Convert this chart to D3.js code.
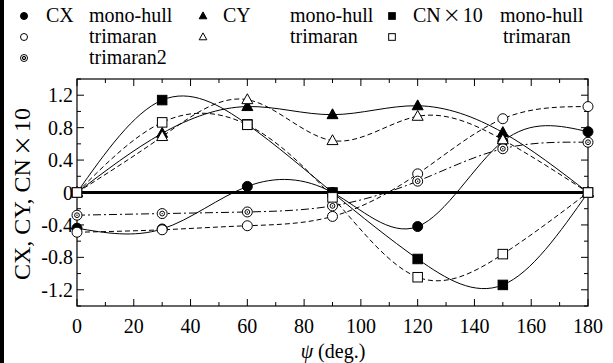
<!DOCTYPE html>
<html>
<head>
<meta charset="utf-8">
<script src="https://cdn.jsdelivr.net/npm/d3@7"></script>
<style>
  body { margin: 0; background: #fff; }
  svg text { font-family: "Liberation Serif", "Times New Roman", serif; fill: #000; }
</style>
</head>
<body>
<svg id="chart" width="613" height="363"></svg>
<script>
// angle of attack (deg)
let angles = [0, 30, 60, 90, 120, 150, 180]

let cxMono = [-0.44, -0.45, 0.075, 0, -0.42, 0.63, 0.75]
let cxTri = [-0.49, -0.46, -0.41, -0.295, 0.23, 0.91, 1.06]
let cxTri2 = [-0.28, -0.26, -0.24, -0.165, 0.14, 0.54, 0.62]
let cyMono = [0, 0.73, 1.06, 0.96, 1.07, 0.74, 0]
let cyTri = [0, 0.69, 1.145, 0.64, 0.94, 0.65, 0]
let cnMono = [0, 1.14, 0.84, 0, -0.82, -1.14, 0]
let cnTri = [0, 0.865, 0.835, -0.06, -1.045, -0.76, 0]

let xTicks = [0, 20, 40, 60, 80, 100, 120, 140, 160, 180]
let yTicks = [-1.2, -0.8, -0.4, 0, 0.4, 0.8, 1.2]

let svg = d3.select("#chart")
let pLeft = 77, pRight = 588, pTop = 79, pBottom = 306

let x = d3.scaleLinear().domain([0, 180]).range([pLeft, pRight])
let y = d3.scaleLinear().domain([-1.4, 1.4]).range([pBottom, pTop])

// black strip on the left edge
svg.append("rect").attr("x", 0).attr("y", 0).attr("width", 4).attr("height", 363).attr("fill", "#000")

// ticks, pointing inward on all four sides
let xMinor = d3.range(0, 181, 10)
let yMinor = d3.range(-14, 15, 2).map(d => d / 10)
let tk = svg.append("g").attr("stroke", "#000").attr("stroke-width", 1)
xMinor.forEach(v => {
    let len = v % 20 === 0 ? 7 : 4
    tk.append("line").attr("x1", x(v)).attr("x2", x(v)).attr("y1", pBottom).attr("y2", pBottom - len)
    tk.append("line").attr("x1", x(v)).attr("x2", x(v)).attr("y1", pTop).attr("y2", pTop + len)
})
yMinor.forEach(v => {
    let major = Math.abs(Math.round(v * 10)) % 4 === 0
    let len = major ? 7 : 4
    tk.append("line").attr("y1", y(v)).attr("y2", y(v)).attr("x1", pLeft).attr("x2", pLeft + len)
    tk.append("line").attr("y1", y(v)).attr("y2", y(v)).attr("x1", pRight).attr("x2", pRight - len)
})

svg.append("rect")
    .attr("x", pLeft).attr("y", pTop)
    .attr("width", pRight - pLeft).attr("height", pBottom - pTop)
    .attr("fill", "none").attr("stroke", "#000").attr("stroke-width", 1.2)

// tick labels
svg.append("g").selectAll("text")
    .data(xTicks).enter().append("text")
    .attr("x", d => x(d)).attr("y", 333)
    .attr("text-anchor", "middle").attr("font-size", 20)
    .text(d => d)

svg.append("g").selectAll("text")
    .data(yTicks).enter().append("text")
    .attr("x", 73).attr("y", d => y(d) + 7)
    .attr("text-anchor", "end").attr("font-size", 20)
    .text(d => d === 0 ? "0" : d.toFixed(1))

// axis titles
svg.append("text")
    .attr("x", 333).attr("y", 358)
    .attr("text-anchor", "middle").attr("font-size", 20)
    .html('<tspan font-style="italic">ψ</tspan>  (deg.)')

let yTitle = svg.append("text")
    .attr("transform", "translate(30,194) rotate(-90)")
    .attr("text-anchor", "middle").attr("font-size", 24)
yTitle.append("tspan").text("CX, CY, CN")
yTitle.append("tspan").attr("font-family", "Noto Sans CJK JP").attr("font-size", 21).attr("dx", 3).text("×")
yTitle.append("tspan").attr("dx", 3).text("10")

// zero line
svg.append("line")
    .attr("x1", x(0)).attr("x2", x(180)).attr("y1", y(0)).attr("y2", y(0))
    .attr("stroke", "#000").attr("stroke-width", 3)

let series = [
    { vals: cxMono, dash: null, mark: "circleF" },
    { vals: cxTri, dash: "5,3", mark: "circleO" },
    { vals: cxTri2, dash: "8,3,2,3", mark: "circle2" },
    { vals: cyMono, dash: null, mark: "triF" },
    { vals: cyTri, dash: "5,3", mark: "triO" },
    { vals: cnMono, dash: null, mark: "sqF" },
    { vals: cnTri, dash: "5,3", mark: "sqO" }
]

let line = d3.line()
    .x((d, i) => x(angles[i]))
    .y(d => y(d))
    .curve(d3.curveNatural)

series.forEach(s => {
    svg.append("path")
        .attr("d", line(s.vals))
        .attr("fill", "none").attr("stroke", "#000").attr("stroke-width", 1)
        .attr("stroke-dasharray", s.dash)
})

function drawMarker(g, kind, cx, cy, size) {
    let filled = kind.endsWith("F")
    let fill = filled ? "#000" : "#fff"
    if (kind.startsWith("circle")) {
        g.append("circle").attr("cx", cx).attr("cy", cy).attr("r", size * 0.5)
            .attr("fill", fill).attr("stroke", "#000").attr("stroke-width", 1)
        if (kind === "circle2") {
            g.append("circle").attr("cx", cx).attr("cy", cy).attr("r", size * 0.24)
                .attr("fill", "#fff").attr("stroke", "#000").attr("stroke-width", 1)
            g.append("circle").attr("cx", cx).attr("cy", cy).attr("r", 0.7).attr("fill", "#000")
        }
    } else if (kind.startsWith("tri")) {
        let h = size * 0.95, w = size * 0.55
        g.append("path")
            .attr("d", `M${cx},${cy - h * 0.62}L${cx + w},${cy + h * 0.42}L${cx - w},${cy + h * 0.42}Z`)
            .attr("fill", fill).attr("stroke", "#000").attr("stroke-width", 1)
    } else {
        let a = size * 0.95
        g.append("rect").attr("x", cx - a / 2).attr("y", cy - a / 2).attr("width", a).attr("height", a)
            .attr("fill", fill).attr("stroke", "#000").attr("stroke-width", 1)
    }
}

let marks = svg.append("g")
series.forEach(s => {
    s.vals.forEach((v, i) => drawMarker(marks, s.mark, x(angles[i]), y(v), 10))
})

// legend
let legend = svg.append("g")
let lg = [
    { mark: "circleF", sx: 24, row: 0 },
    { mark: "circleO", sx: 24, row: 1 },
    { mark: "circle2", sx: 24, row: 2 },
    { mark: "triF", sx: 203, row: 0 },
    { mark: "triO", sx: 203, row: 1 },
    { mark: "sqF", sx: 392, row: 0 },
    { mark: "sqO", sx: 392, row: 1 }
]
let rowY = [16, 37, 58]
lg.forEach(d => drawMarker(legend, d.mark, d.sx, rowY[d.row], 7))

let labels = [
    ["CX", 46, 0], ["mono-hull", 89, 0], ["trimaran", 89, 1], ["trimaran2", 89, 2],
    ["CY", 223, 0], ["mono-hull", 290, 0], ["trimaran", 290, 1],
    ["mono-hull", 500, 0], ["trimaran", 503, 1]
]
labels.forEach(l => {
    legend.append("text").attr("x", l[1]).attr("y", rowY[l[2]] + 6)
        .attr("font-size", 20).text(l[0])
})
let cnl = legend.append("text").attr("x", 413).attr("y", rowY[0] + 6).attr("font-size", 20)
cnl.append("tspan").text("CN")
cnl.append("tspan").attr("font-family", "Noto Sans CJK JP").attr("font-size", 18).attr("dx", 2).text("×")
cnl.append("tspan").attr("dx", 2).text("10")
</script>
</body>
</html>
